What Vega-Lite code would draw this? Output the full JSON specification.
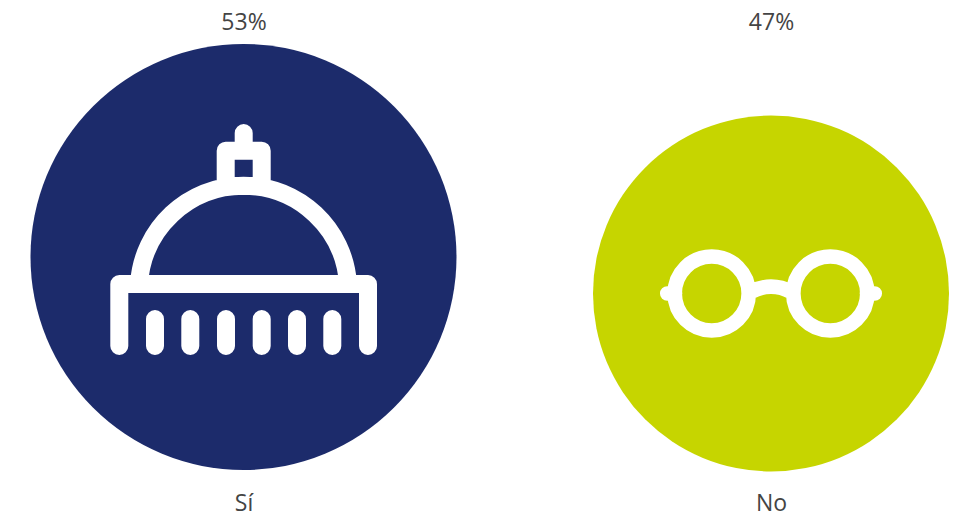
{"$schema":"https://vega.github.io/schema/vega-lite/v6.json","width":959,"height":452,"autosize":"none","padding":{"left":0,"right":0,"top":36,"bottom":28},"background":"white","view":{"stroke":null},"data":{"values":[{"respuesta":"Sí","porcentaje":53,"etiqueta":"53%"},{"respuesta":"No","porcentaje":47,"etiqueta":"47%"}]},"config":{"axis":{"labelFont":"Open Sans","labelFontSize":23,"labelColor":"#444444","domain":false,"ticks":false,"grid":false,"title":null,"labelAngle":0}},"resolve":{"scale":{"x":"independent"},"axis":{"x":"independent"}},"layer":[{"mark":{"type":"point","filled":true,"shape":"circle","opacity":1,"strokeWidth":0},"encoding":{"x":{"field":"respuesta","type":"nominal","scale":{"type":"point","padding":0,"domain":["Sí","No"],"range":[243.5,771]},"axis":{"orient":"bottom","labelPadding":4}},"y":{"field":"porcentaje","type":"quantitative","scale":{"domain":[47,53],"range":[257.5,221],"zero":false,"nice":false},"axis":null},"size":{"field":"porcentaje","type":"quantitative","scale":{"domain":[47,53],"range":[126736,181476],"zero":false,"nice":false},"legend":null},"color":{"field":"respuesta","type":"nominal","scale":{"domain":["Sí","No"],"range":["#1C2B6B","#C6D500"]},"legend":null}}},{"mark":{"type":"point","size":0,"opacity":0},"encoding":{"x":{"field":"etiqueta","type":"nominal","scale":{"type":"point","padding":0,"domain":["53%","47%"],"range":[243.5,771]},"axis":{"orient":"top","labelPadding":1.5}}}},{"transform":[{"filter":"datum.respuesta === 'Sí'"}],"mark":{"type":"point","filled":false,"opacity":1,"size":4,"stroke":"white","strokeWidth":18,"strokeCap":"round","strokeJoin":"round","shape":"M-124.2 89V27H124.5V89M-88.5 62V89M-53.2 62V89M-17.5 62V89M18.2 62V89M53.5 62V89M88.8 62V89M-104.5 27A104.7 104.7 0 0 1 104.5 27M-17.8 -71V-106.3H18.2V-71ZM0.2 -106.3V-124"},"encoding":{"x":{"field":"respuesta","type":"nominal","scale":{"type":"point","padding":0,"domain":["Sí","No"],"range":[243.5,771]},"axis":null},"y":{"field":"porcentaje","type":"quantitative","scale":{"domain":[47,53],"range":[257.5,221],"zero":false,"nice":false},"axis":null}}},{"transform":[{"filter":"datum.respuesta === 'No'"}],"mark":{"type":"point","filled":false,"opacity":1,"size":4,"stroke":"white","strokeWidth":14.7,"strokeCap":"round","strokeJoin":"round","shape":"M-96.3 0A37 37 0 1 1 -22.3 0A37 37 0 1 1 -96.3 0ZM22.3 0A37 37 0 1 1 96.3 0A37 37 0 1 1 22.3 0ZM-103.7 0H-96M96 0H103.7M-20 -1.5A40 40 0 0 1 20 -1.5"},"encoding":{"x":{"field":"respuesta","type":"nominal","scale":{"type":"point","padding":0,"domain":["Sí","No"],"range":[243.5,771]},"axis":null},"y":{"field":"porcentaje","type":"quantitative","scale":{"domain":[47,53],"range":[257.5,221],"zero":false,"nice":false},"axis":null}}}]}
